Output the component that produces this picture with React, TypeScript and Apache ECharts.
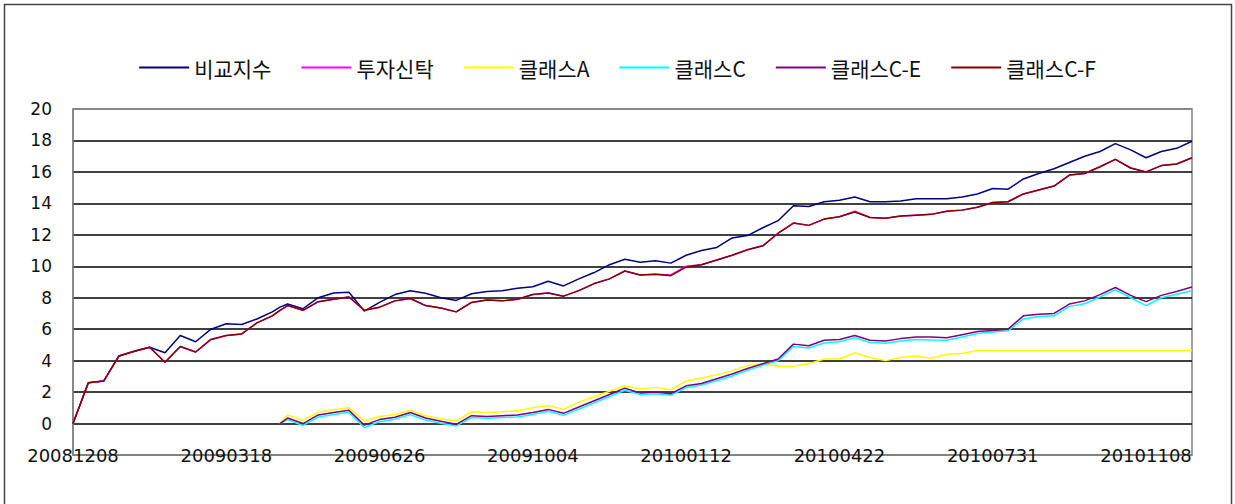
import React, { useEffect, useRef } from "react";
import * as echarts from "echarts";

const dates = [
  "20081208", "20081218", "20081228", "20090107", "20090117", "20090127", "20090206", "20090216",
  "20090226", "20090308", "20090318", "20090328", "20090407", "20090417", "20090422", "20090427",
  "20090507", "20090517", "20090527", "20090606", "20090616", "20090626", "20090706", "20090716",
  "20090726", "20090805", "20090815", "20090825", "20090904", "20090914", "20090924", "20091004",
  "20091014", "20091024", "20091103", "20091113", "20091123", "20091203", "20091213", "20091223",
  "20100102", "20100112", "20100122", "20100201", "20100211", "20100221", "20100303", "20100313",
  "20100323", "20100402", "20100412", "20100422", "20100502", "20100512", "20100522", "20100601",
  "20100611", "20100621", "20100701", "20100711", "20100721", "20100731", "20100810", "20100820",
  "20100830", "20100909", "20100919", "20100929", "20101009", "20101019", "20101029", "20101108",
  "20101118", "20101128", "20101208",
];

const tickLabels = ["20081208", "20090318", "20090626", "20091004", "20100112", "20100422", "20100731", "20101108"];
const yTicks = [-2, 0, 2, 4, 6, 8, 10, 12, 14, 16, 18, 20];

const seriesNames = ["비교지수", "투자신탁", "클래스A", "클래스C", "클래스C-E", "클래스C-F"];

const benchmark = [
  0, 2.6, 2.7, 4.3, 4.6, 4.85, 4.5, 5.6, 5.2, 6.0, 6.35, 6.3, 6.65, 7.1, 7.4,
  7.6, 7.3, 8.0, 8.3, 8.35, 7.15, 7.7, 8.2, 8.45, 8.28,
  8.0, 7.83, 8.25, 8.4, 8.45, 8.6, 8.7, 9.05, 8.75, 9.2,
  9.6, 10.1, 10.45, 10.25, 10.35, 10.2, 10.7, 11.0, 11.2, 11.8,
  11.95, 12.45, 12.9, 13.85, 13.8, 14.1, 14.2, 14.4, 14.1, 14.1,
  14.15, 14.3, 14.3, 14.3, 14.4, 14.6, 14.95, 14.9, 15.55, 15.9,
  16.2, 16.6, 17.0, 17.3, 17.8, 17.4, 16.9, 17.3, 17.5, 17.95,
];

const trust = [
  0, 2.6, 2.7, 4.3, 4.6, 4.85, 3.9, 4.9, 4.55, 5.35, 5.6, 5.7, 6.4, 6.85, 7.2,
  7.5, 7.2, 7.75, 7.9, 8.05, 7.2, 7.4, 7.8, 7.95, 7.5,
  7.35, 7.1, 7.7, 7.85, 7.8, 7.9, 8.2, 8.3, 8.1, 8.45,
  8.9, 9.2, 9.7, 9.45, 9.5, 9.45, 10.0, 10.1, 10.4, 10.7,
  11.05, 11.3, 12.1, 12.75, 12.6, 13.0, 13.15, 13.5, 13.1, 13.05,
  13.2, 13.25, 13.3, 13.5, 13.57, 13.75, 14.05, 14.1, 14.6, 14.85,
  15.1, 15.8, 15.9, 16.33, 16.8, 16.25, 16.0, 16.4, 16.5, 16.9,
];

const classA = [
  null, null, null, null, null, null, null, null, null, null, null, null, null, null, 0,
  0.55, 0.2, 0.72, 0.87, 1.0, 0.15, 0.45, 0.58, 0.85, 0.5,
  0.3, 0.15, 0.75, 0.7, 0.75, 0.82, 1.0, 1.15, 0.9, 1.36,
  1.7, 2.05, 2.4, 2.2, 2.3, 2.15, 2.7, 2.9, 3.1, 3.35,
  3.7, 3.8, 3.65, 3.65, 3.8, 4.1, 4.1, 4.5, 4.2, 4.0,
  4.2, 4.3, 4.15, 4.4, 4.45, 4.65, 4.65, 4.65, 4.65, 4.65,
  4.65, 4.65, 4.65, 4.65, 4.65, 4.65, 4.65, 4.65, 4.65, 4.65,
];

const classC = [
  null, null, null, null, null, null, null, null, null, null, null, null, null, null, 0,
  0.25, -0.12, 0.42, 0.57, 0.72, -0.25, 0.12, 0.28, 0.57, 0.22,
  0.02, -0.15, 0.38, 0.33, 0.38, 0.42, 0.58, 0.78, 0.52, 0.92,
  1.32, 1.72, 2.12, 1.85, 1.9, 1.8, 2.28, 2.45, 2.72, 3.02,
  3.38, 3.7, 4.0, 4.9, 4.8, 5.12, 5.2, 5.45, 5.15, 5.1,
  5.25, 5.35, 5.32, 5.3, 5.5, 5.72, 5.82, 5.9, 6.65, 6.8,
  6.85, 7.45, 7.62, 8.05, 8.5, 8.0, 7.5, 8.0, 8.22, 8.45,
];

const classCE = [
  null, null, null, null, null, null, null, null, null, null, null, null, null, null, 0,
  0.35, 0.0, 0.55, 0.7, 0.85, -0.1, 0.25, 0.4, 0.7, 0.35,
  0.15, -0.05, 0.5, 0.45, 0.5, 0.55, 0.7, 0.9, 0.65, 1.05,
  1.45, 1.85, 2.25, 1.95, 2.0, 1.9, 2.4, 2.55, 2.85, 3.15,
  3.5, 3.8, 4.1, 5.05, 4.95, 5.3, 5.35, 5.6, 5.3, 5.25,
  5.4, 5.5, 5.5, 5.45, 5.65, 5.85, 5.92, 6.0, 6.85, 6.95,
  7.0, 7.6, 7.8, 8.2, 8.65, 8.15, 7.75, 8.15, 8.4, 8.68,
];

const classCF = [
  0, 2.6, 2.7, 4.3, 4.6, 4.85, 3.9, 4.9, 4.55, 5.35, 5.6, 5.7, 6.4, 6.85, 7.2,
  7.5, 7.2, 7.75, 7.9, 8.05, 7.2, 7.4, 7.8, 7.95, 7.5,
  7.35, 7.1, 7.7, 7.85, 7.8, 7.9, 8.2, 8.3, 8.1, 8.45,
  8.9, 9.2, 9.7, 9.45, 9.5, 9.4, 9.95, 10.1, 10.4, 10.7,
  11.05, 11.3, 12.1, 12.75, 12.6, 13.0, 13.15, 13.45, 13.1, 13.05,
  13.2, 13.25, 13.3, 13.5, 13.57, 13.75, 14.05, 14.1, 14.6, 14.85,
  15.1, 15.8, 15.9, 16.33, 16.8, 16.25, 16.0, 16.4, 16.5, 16.9,
];

const seriesValues = [benchmark, trust, classA, classC, classCE, classCF];
const seriesColors = ["#000080", "#FF00FF", "#FFFF00", "#00FFFF", "#800080", "#800000"];

function toUTC(s: string) {
  return Date.UTC(+s.slice(0, 4), +s.slice(4, 6) - 1, +s.slice(6, 8));
}
const startUTC = toUTC(dates[0]);
function dayOffset(s: string) {
  return Math.round((toUTC(s) - startUTC) / 86400000);
}
const endDay = dayOffset(dates[dates.length - 1]);

export default function App() {
  const ref = useRef<HTMLDivElement>(null);
  useEffect(() => {
    if (!ref.current) return;
    const chart = echarts.init(ref.current, null, { renderer: "svg" });
    const series = seriesNames.map((name, si) => ({
      name,
      type: "line",
      symbol: "none",
      showSymbol: false,
      color: seriesColors[si],
      lineStyle: { color: seriesColors[si], width: 1.5 },
      data: dates
        .map((d, i) => (seriesValues[si][i] == null ? null : [dayOffset(d), seriesValues[si][i]]))
        .filter((p) => p !== null),
    }));
    const splitColors = yTicks.map((v, i) => (i === 0 || i === yTicks.length - 1 ? "#808080" : "#000000"));
    chart.setOption({
      animation: false,
      backgroundColor: "#ffffff",
      legend: {
        data: seriesNames,
        left: "center",
        top: 52,
        icon: "rect",
        itemWidth: 50,
        itemHeight: 2,
        itemGap: 30,
        textStyle: { fontFamily: "Noto Sans CJK KR", fontSize: 21, color: "#111" },
      },
      grid: {
        left: 73,
        right: 43,
        top: 109,
        bottom: 49,
        show: true,
        borderColor: "#808080",
        borderWidth: 1.5,
        backgroundColor: "transparent",
      },
      xAxis: {
        type: "value",
        min: 0,
        max: endDay,
        interval: 100,
        z: 5,
        axisLine: { show: true, onZero: false, lineStyle: { color: "#808080", width: 1.5 } },
        axisTick: { show: false },
        splitLine: { show: false },
        axisLabel: {
          showMaxLabel: false,
          margin: 0,
          verticalAlign: "middle",
          fontFamily: "DejaVu Sans",
          fontSize: 18,
          color: "#111",
          formatter: (v: number) => {
            const k = v / 100;
            return Number.isInteger(k) && tickLabels[k] ? tickLabels[k] : "";
          },
        },
      },
      yAxis: {
        type: "value",
        min: -2,
        max: 20,
        interval: 2,
        axisLine: { show: true, lineStyle: { color: "#808080", width: 1.5 } },
        axisTick: { show: false },
        splitLine: { show: true, lineStyle: { color: splitColors, width: 1.5 } },
        axisLabel: {
          margin: 21,
          fontFamily: "DejaVu Sans",
          fontSize: 17,
          color: "#111",
          formatter: (v: number) => (v < 0 ? "" : String(v)),
        },
      },
      graphic: [
        {
          type: "rect",
          silent: true,
          shape: { x: 4.5, y: 4.5, width: 1227, height: 600 },
          style: { fill: "none", stroke: "#444", lineWidth: 1.5 },
        },
      ],
      series,
    });
    return () => chart.dispose();
  }, []);
  return (
    <div
      ref={ref}
      style={{ position: "fixed", left: 0, top: 0, width: 1235, height: 504, background: "#fff" }}
    />
  );
}
